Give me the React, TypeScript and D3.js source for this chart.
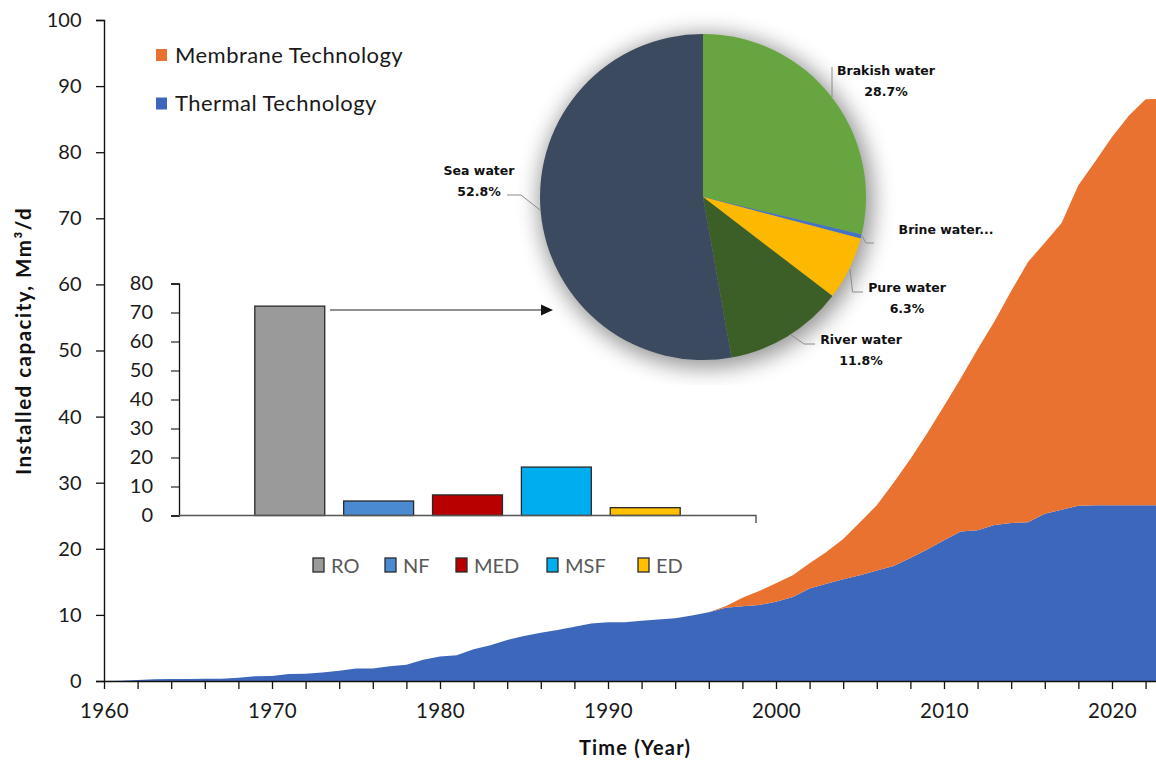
import React, { useEffect, useRef } from 'react';
import * as d3 from 'd3';

// installed capacity, Mm3/d
const years = [
  1960, 1961, 1962, 1963, 1964, 1965, 1966, 1967, 1968, 1969,
  1970, 1971, 1972, 1973, 1974, 1975, 1976, 1977, 1978, 1979,
  1980, 1981, 1982, 1983, 1984, 1985, 1986, 1987, 1988, 1989,
  1990, 1991, 1992, 1993, 1994, 1995, 1996, 1997, 1998, 1999,
  2000, 2001, 2002, 2003, 2004, 2005, 2006, 2007, 2008, 2009,
  2010, 2011, 2012, 2013, 2014, 2015, 2016, 2017, 2018, 2019,
  2020, 2021, 2022, 2023
];
const thermal = [
  0, 0.05, 0.15, 0.25, 0.3, 0.3, 0.35, 0.35, 0.5, 0.7,
  0.75, 1.05, 1.1, 1.3, 1.55, 1.9, 1.9, 2.25, 2.45, 3.2,
  3.7, 3.9, 4.8, 5.4, 6.2, 6.8, 7.3, 7.7, 8.2, 8.7,
  8.9, 8.9, 9.1, 9.3, 9.5, 9.9, 10.4, 11.1, 11.3, 11.5,
  12.0, 12.7, 14.0, 14.7, 15.4, 16.0, 16.7, 17.4, 18.6, 19.9,
  21.3, 22.6, 22.8, 23.6, 23.9, 24.0, 25.3, 25.9, 26.5, 26.6,
  26.6, 26.6, 26.6, 26.6
];
const membrane = [
  0, 0, 0, 0, 0, 0, 0, 0, 0, 0,
  0, 0, 0, 0, 0, 0, 0, 0, 0, 0,
  0, 0, 0, 0, 0, 0, 0, 0, 0, 0,
  0, 0, 0, 0, 0, 0, 0, 0.2, 1.3, 2.1,
  2.8, 3.3, 3.8, 4.8, 6.1, 8.0, 9.9, 12.6, 15.0, 17.6,
  20.3, 23.2, 27.4, 30.8, 35.1, 39.4, 41.0, 43.4, 48.5, 52.0,
  55.7, 58.9, 61.4, 61.5
];
const seriesNames = ['Membrane Technology', 'Thermal Technology'];

// inset: capacity by technology
const techs = ['RO', 'NF', 'MED', 'MSF', 'ED'];
const techValues = [72.2, 5.0, 7.1, 16.7, 2.7];

// pie: feed water share, %
const sources = ['Brakish water', 'Brine water...', 'Pure water', 'River water', 'Sea water'];
const sourceShares = [28.7, 0.4, 6.3, 11.8, 52.8];

const W = 1156;
const H = 761;

function drawMain(svg: any) {
  const x = d3.scaleLinear().domain([1960, 2022.62]).range([104, 1156]);
  const y = d3.scaleLinear().domain([0, 100]).range([681, 20]);

  const rows = years.map((yr, i) => ({ year: yr, thermal: thermal[i], membrane: membrane[i] }));
  const stacked = d3.stack<any>().keys(['thermal', 'membrane'])(rows);
  const area = d3.area<any>()
    .x((d) => x(d.data.year))
    .y0((d) => y(d[0]))
    .y1((d) => y(d[1]));
  const fills = ['#3d67bb', '#e97231'];

  svg.append('g').selectAll('path').data(stacked).enter()
    .append('path')
    .attr('d', (d: any) => area(d))
    .attr('fill', (d: any, i: number) => fills[i]);

  // y axis, minor ticks every 2
  const gy = svg.append('g').attr('transform', 'translate(104,0)');
  gy.call(d3.axisLeft(y).tickValues(d3.range(0, 101, 2)).tickSize(5).tickFormat(() => ''));
  gy.call(d3.axisLeft(y).tickValues(d3.range(0, 101, 10)).tickSize(8).tickPadding(14.5));
  gy.selectAll('path.domain').attr('stroke', '#111').attr('stroke-width', 1.4);
  gy.selectAll('line').attr('stroke', '#111').attr('stroke-width', 1.3);
  gy.selectAll('text').attr('font-size', 20).attr('fill', '#1a1a1a').attr('font-family', 'Lato, sans-serif');

  const gx = svg.append('g').attr('transform', 'translate(0,681)');
  gx.call(d3.axisBottom(x).tickValues(d3.range(1961, 2023, 2)).tickSize(5).tickFormat(() => '').tickSizeOuter(0));
  gx.call(d3.axisBottom(x).tickValues(d3.range(1960, 2023, 2)).tickSize(8).tickSizeOuter(0)
    .tickPadding(14)
    .tickFormat((d: any) => (d % 10 === 0 ? String(d) : '')));
  gx.selectAll('path.domain').attr('stroke', '#111').attr('stroke-width', 1.6);
  gx.selectAll('line').attr('stroke', '#111').attr('stroke-width', 1.3);
  gx.selectAll('text').attr('font-size', 20.5).attr('letter-spacing', 0.4)
    .attr('fill', '#1a1a1a').attr('font-family', 'Lato, sans-serif');

  svg.append('text')
    .attr('x', 635).attr('y', 755)
    .attr('text-anchor', 'middle')
    .attr('font-size', 20).attr('font-weight', 'bold')
    .attr('letter-spacing', 1.2)
    .attr('fill', '#111')
    .text('Time (Year)');

  svg.append('text')
    .attr('transform', 'translate(31,341) rotate(-90)')
    .attr('text-anchor', 'middle')
    .attr('font-size', 20.5).attr('font-weight', 'bold')
    .attr('letter-spacing', 1.5)
    .attr('fill', '#111')
    .text('Installed capacity, Mm³/d');

  // legend
  const lg = svg.append('g');
  const legendColors = ['#e97231', '#3d67bb'];
  seriesNames.forEach((name, i) => {
    const ly = 55 + i * 48.5;
    lg.append('rect').attr('x', 156).attr('y', ly - 6).attr('width', 11).attr('height', 12)
      .attr('fill', legendColors[i]);
    lg.append('text').attr('x', 175).attr('y', ly + 7.5)
      .attr('font-size', 22).attr('letter-spacing', 0.45).attr('fill', '#1a1a1a')
      .text(name);
  });
}

function drawBars(svg: any) {
  const x = d3.scaleBand().domain(techs).range([179, 756]).paddingInner(0.213).paddingOuter(0.853);
  const y = d3.scaleLinear().domain([0, 80]).range([515.5, 283.5]);
  const colors = ['#9a9a9a', '#4a8ad0', '#b80000', '#00aeef', '#ffc000'];

  svg.append('g').selectAll('rect').data(techValues).enter()
    .append('rect')
    .attr('x', (d: number, i: number) => x(techs[i]))
    .attr('y', (d: number) => y(d))
    .attr('width', x.bandwidth())
    .attr('height', (d: number) => y(0) - y(d))
    .attr('fill', (d: number, i: number) => colors[i])
    .attr('stroke', '#2a2a2a')
    .attr('stroke-width', 1.3);

  const gy = svg.append('g').attr('transform', 'translate(179,0)');
  gy.call(d3.axisLeft(y).tickValues(d3.range(0, 81, 2)).tickSize(5).tickFormat(() => ''));
  gy.call(d3.axisLeft(y).tickValues(d3.range(0, 81, 10)).tickSize(8).tickPadding(18));
  gy.selectAll('path.domain').attr('stroke', '#111').attr('stroke-width', 1.3);
  gy.selectAll('line').attr('stroke', '#111').attr('stroke-width', 1.1);
  gy.selectAll('text').attr('font-size', 20).attr('fill', '#1a1a1a').attr('font-family', 'Lato, sans-serif');

  svg.append('path')
    .attr('d', 'M179,515.5H756V523')
    .attr('fill', 'none')
    .attr('stroke', '#555')
    .attr('stroke-width', 1.4);

  // legend
  const legendX = [313, 385, 456, 547, 638];
  const lg = svg.append('g');
  techs.forEach((t, i) => {
    lg.append('rect').attr('x', legendX[i]).attr('y', 558).attr('width', 11).attr('height', 14)
      .attr('fill', colors[i]).attr('stroke', '#2a2a2a').attr('stroke-width', 1.3);
    lg.append('text').attr('x', legendX[i] + 18).attr('y', 572.5)
      .attr('font-size', 20).attr('fill', '#595959')
      .text(t);
  });

  // arrow from RO to pie
  const ay = 310;
  svg.append('line').attr('x1', 330).attr('x2', 542).attr('y1', ay).attr('y2', ay)
    .attr('stroke', '#222').attr('stroke-width', 1.2);
  svg.append('path').attr('d', `M541,${ay - 5.5}L553,${ay}L541,${ay + 5.5}Z`).attr('fill', '#111');
}

function drawPie(svg: any) {
  const cx = 703, cy = 197, r = 163;
  const colors = ['#67a541', '#4472c4', '#fdb900', '#3c5e27', '#3b4a5f'];

  const defs = svg.append('defs');
  const f = defs.append('filter').attr('id', 'pieShadow')
    .attr('x', '-30%').attr('y', '-30%').attr('width', '160%').attr('height', '160%');
  f.append('feGaussianBlur').attr('in', 'SourceGraphic').attr('stdDeviation', 11);
  defs.append('clipPath').attr('id', 'pieClip')
    .append('rect').attr('x', 420).attr('y', 4).attr('width', 580).attr('height', 381);

  svg.append('g').attr('clip-path', 'url(#pieClip)')
    .append('circle')
    .attr('cx', cx + 3).attr('cy', cy + 4).attr('r', r + 4)
    .attr('fill', '#000').attr('opacity', 0.42)
    .attr('filter', 'url(#pieShadow)');

  const pie = d3.pie<number>().sort(null).value((d) => d);
  const arcs = pie(sourceShares);
  const arc = d3.arc<any>().innerRadius(0).outerRadius(r);
  const g = svg.append('g').attr('transform', `translate(${cx},${cy})`);
  g.selectAll('path').data(arcs).enter()
    .append('path')
    .attr('d', arc)
    .attr('fill', (d: any, i: number) => colors[i]);

  // label layout (label centre, leader polyline)
  const labelPos: any[] = [
    { x: 886, y: 75, leader: [[832, 67], [832, 97]] },
    { x: 946, y: 234, leader: [[862, 236], [866, 243], [874, 243]] },
    { x: 907, y: 292, leader: [[850, 269], [852.5, 292], [863, 292]] },
    { x: 861, y: 344, leader: [[790, 334], [804, 344], [815, 344]] },
    { x: 479, y: 175, leader: [[507, 195], [521, 195], [540, 210]] }
  ];
  const lt = svg.append('g')
    .attr('font-family', '"DejaVu Sans", sans-serif')
    .attr('font-weight', 'bold')
    .attr('font-size', 12.5)
    .attr('fill', '#111')
    .attr('text-anchor', 'middle');
  sources.forEach((s, i) => {
    const p = labelPos[i];
    svg.append('path')
      .attr('d', d3.line()(p.leader))
      .attr('fill', 'none').attr('stroke', '#8c8c8c').attr('stroke-width', 1);
    lt.append('text').attr('x', p.x).attr('y', p.y).text(s);
    if (i !== 1) {
      lt.append('text').attr('x', p.x).attr('y', p.y + 21).text(sourceShares[i].toFixed(1) + '%');
    }
  });
}

export default function App() {
  const ref = useRef<HTMLDivElement>(null);

  useEffect(() => {
    const root = d3.select(ref.current);
    root.selectAll('*').remove();
    const svg = root.append('svg')
      .attr('width', W).attr('height', H)
      .style('position', 'absolute').style('left', 0).style('top', 0)
      .style('background', '#fff')
      .attr('font-family', 'Lato, sans-serif');
    drawMain(svg);
    drawBars(svg);
    drawPie(svg);
  }, []);

  return <div ref={ref}></div>;
}
